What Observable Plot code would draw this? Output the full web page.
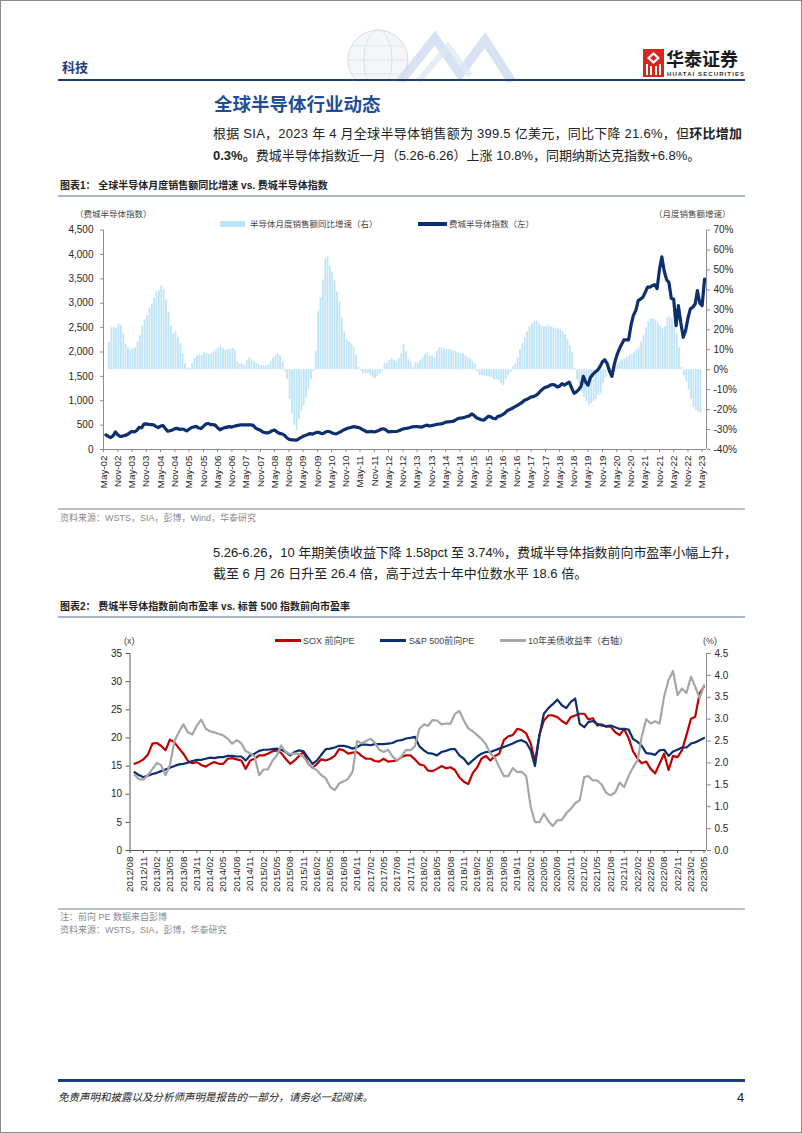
<!DOCTYPE html>
<html lang="zh">
<head>
<meta charset="utf-8">
<script src="https://cdn.jsdelivr.net/npm/d3@7"></script>
<script src="https://cdn.jsdelivr.net/npm/@observablehq/plot@0.6"></script>
<style>
html,body{margin:0;padding:0;background:#fff;}
#page{position:relative;width:802px;height:1133px;overflow:hidden;background:#fff;font-family:"Liberation Sans",Arial,"Noto Sans CJK SC",sans-serif;color:#222;}
.t{position:absolute;white-space:nowrap;line-height:1;}
.r{position:absolute;}
#frame{position:absolute;left:0;top:0;width:802px;height:1133px;box-sizing:border-box;border:1px solid #8a8a8a;pointer-events:none;}
b{font-weight:bold;}
</style>
</head>
<body>
<div id="page">
  <!-- header -->
  <svg class="r" style="left:300px;top:26px" width="230" height="56" viewBox="0 0 230 56">
    <circle cx="78" cy="34" r="30" fill="#f4f6f9" stroke="#d5dbe3" stroke-width="1"/>
    <ellipse cx="78" cy="34" rx="14" ry="30" fill="none" stroke="#dde2e8"/>
    <line x1="48" y1="34" x2="108" y2="34" stroke="#dde2e8"/>
    <line x1="52" y1="20" x2="104" y2="20" stroke="#e2e6eb"/>
    <line x1="52" y1="48" x2="104" y2="48" stroke="#e2e6eb"/>
    <polyline points="100,56 135,12 160,48 185,14 212,56" fill="none" stroke="#c6d7ec" stroke-width="9" opacity="0.7"/>
    <polyline points="118,56 148,20 170,50" fill="none" stroke="#dfe8f3" stroke-width="6" opacity="0.8"/>
  </svg>
  <div class="t" style="left:62px;top:59.5px;font-size:13px;font-weight:bold;color:#1f3c7c;font-family:'Noto Sans CJK SC'">科技</div>
  <svg class="r" style="left:643px;top:49px" width="21" height="28" viewBox="0 0 21 28">
    <rect x="0" y="0" width="21" height="28" fill="#d6261d"/>
    <path d="M10.5 3 L17 9 L10.5 15 L4 9 Z" fill="#fff"/>
    <path d="M10.5 6 L14 9 L10.5 12 L7 9 Z" fill="#d6261d"/>
    <rect x="3" y="15" width="2" height="11" fill="#fff"/>
    <rect x="7" y="17" width="2" height="9" fill="#fff"/>
    <rect x="12" y="17" width="2" height="9" fill="#fff"/>
    <rect x="16" y="15" width="2" height="11" fill="#fff"/>
  </svg>
  <div class="t" style="left:666px;top:49px;font-size:18px;font-weight:bold;color:#1a1a1a;font-family:'Noto Sans CJK SC'">华泰证券</div>
  <div class="t fit" data-w="77" style="left:667px;top:71px;font-size:6px;font-weight:bold;color:#333">HUATAI SECURITIES</div>
  <div class="r" style="left:58px;top:79px;width:687px;height:2px;background:#1f3c7c"></div>

  <div class="t" style="left:214px;top:93.75px;font-size:18.5px;font-weight:bold;color:#1f4e99;font-family:'Noto Sans CJK SC'">全球半导体行业动态</div>
  <div class="t fit" data-w="529" style="left:213px;top:126.5px;font-size:13px;color:#222">根据 SIA，2023 年 4 月全球半导体销售额为 399.5 亿美元，同比下降 21.6%，但<b>环比增加</b></div>
  <div class="t" style="left:213px;top:148.5px;font-size:13px;color:#222"><b>0.3%。</b>费城半导体指数近一月（5.26-6.26）上涨 10.8%，同期纳斯达克指数+6.8%。</div>

  <!-- chart 1 -->
  <div class="t" style="left:60px;top:181px;font-size:10px;font-weight:bold;color:#222">图表1：&nbsp;全球半导体月度销售额同比增速 vs. 费城半导体指数</div>
  <div class="r" style="left:58px;top:195px;width:687px;height:2px;background:#a9b7c8"></div>
  <div class="t" style="left:75px;top:209.75px;font-size:8.5px;color:#444">（费城半导体指数）</div>
  <div class="t" style="left:654px;top:209.75px;font-size:8.5px;color:#444">（月度销售额增速）</div>
  <div class="r" style="left:220px;top:221px;width:25px;height:6px;background:#bfe4f6"></div>
  <div class="t" style="left:250px;top:219.75px;font-size:8.5px;color:#444">半导体月度销售额同比增速（右）</div>
  <div class="r" style="left:418px;top:222.3px;width:29px;height:3.5px;background:#0d2f6e"></div>
  <div class="t" style="left:449px;top:219.75px;font-size:8.5px;color:#444">费城半导体指数（左）</div>
  <div id="c1" class="r" style="left:0;top:215px;width:802px;height:290px"></div>
  <div class="r" style="left:58px;top:508px;width:687px;height:1.5px;background:#b7c1cc"></div>
  <div class="t" style="left:60px;top:513.5px;font-size:9px;color:#8a8a8a">资料来源：WSTS，SIA，彭博，Wind，华泰研究</div>

  <div class="t fit" data-w="524" style="left:213px;top:545.5px;font-size:13px;color:#222">5.26-6.26，10 年期美债收益下降 1.58pct 至 3.74%，费城半导体指数前向市盈率小幅上升，</div>
  <div class="t" style="left:213px;top:566.5px;font-size:13px;color:#222">截至 6 月 26 日升至 26.4 倍，高于过去十年中位数水平 18.6 倍。</div>

  <!-- chart 2 -->
  <div class="t" style="left:60px;top:602px;font-size:10px;font-weight:bold;color:#222">图表2：&nbsp;费城半导体指数前向市盈率 vs. 标普 500 指数前向市盈率</div>
  <div class="r" style="left:58px;top:616px;width:687px;height:2px;background:#a9b7c8"></div>
  <div class="t" style="left:124px;top:636.5px;font-size:9px;color:#444">(x)</div>
  <div class="t" style="left:703px;top:636.5px;font-size:9px;color:#444">(%)</div>
  <div class="r" style="left:275px;top:639px;width:26px;height:2.5px;background:#c00000"></div>
  <div class="t" style="left:303px;top:636.5px;font-size:9px;color:#444">SOX 前向PE</div>
  <div class="r" style="left:380px;top:639px;width:26px;height:2.5px;background:#0b2f70"></div>
  <div class="t" style="left:409px;top:636.5px;font-size:9px;color:#444">S&amp;P 500前向PE</div>
  <div class="r" style="left:500px;top:639px;width:26px;height:2.5px;background:#a6a6a6"></div>
  <div class="t" style="left:528px;top:636.5px;font-size:9px;color:#444">10年美债收益率（右轴）</div>
  <div id="c2" class="r" style="left:0;top:640px;width:802px;height:270px"></div>
  <div class="r" style="left:58px;top:908px;width:687px;height:1.5px;background:#b7c1cc"></div>
  <div class="t" style="left:60px;top:912.5px;font-size:9px;color:#8a8a8a">注：前向 PE 数据来自彭博</div>
  <div class="t" style="left:60px;top:925.5px;font-size:9px;color:#8a8a8a">资料来源：WSTS，SIA，彭博，华泰研究</div>

  <!-- footer -->
  <div class="r" style="left:58px;top:1079px;width:687px;height:2.5px;background:#1f3c7c"></div>
  <div class="t" style="left:58px;top:1091.75px;font-size:10.5px;font-style:italic;color:#222">免责声明和披露以及分析师声明是报告的一部分，请务必一起阅读。</div>
  <div class="t" style="left:737px;top:1090.5px;font-size:13px;color:#222">4</div>
  <div id="frame"></div>
</div>
<script>
// ---------- DATA ----------
// Chart 1: monthly YoY growth of global semiconductor sales (%), Jul-2002 .. Apr-2023
const salesYoYStart = "2002-07";
const salesYoY = [
  14, 21, 21, 21, 23, 22,
  18, 13, 11, 10, 10.5, 11, 14, 17, 22, 25, 27, 31,
  33, 36, 39, 39.5, 42, 40, 35, 29, 22, 18, 19, 16,
  13, 8, 3, 0.5, 0.5, 3, 6, 7, 7.5, 7, 8.5, 8,
  7.5, 8, 9, 10, 11, 11.5, 10.5, 9.7, 10, 10, 11, 9.5,
  4, 2.7, 3, 2, 4.5, 6, 5, 4, 3, 2.5, 2, 2,
  1.7, 2.5, 4, 6, 7, 8, 7, 4, -1, -5, -15, -22,
  -28, -30.5, -25, -21, -18, -14, -10, -5, -1, 9, 29, 36,
  45, 55.5, 56.5, 52, 49, 44.5, 39, 34, 26, 19, 15, 14,
  13, 11, 7, 1.3, -0.7, -2, -2.2, -1.8, -3, -3.7, -4.5, -3.5,
  -2, -1, 3, 3.3, 4.7, 5.5, 4.8, 4.3, 5.5, 8, 12.7, 9,
  5, 4, 1, 3.5, 3, 4.5, 6, 7.5, 8.3, 7, 7, 6,
  9, 11, 11, 10.5, 10, 10, 9.5, 9.5, 9, 8.5, 8, 8,
  7, 6, 5.5, 4, 3, -1, -3, -3, -3.5, -3.5, -3.5, -4,
  -5, -5, -5.5, -7, -8, -5, -3, -1.5, 1.5, 3, 6, 10,
  13, 16, 19, 21.5, 23, 24, 24.5, 23, 22, 21.5, 21.5, 22,
  21.5, 21, 20.5, 20.5, 20, 19, 17.5, 15, 12, 8.5, 0.5, -5,
  -8, -11, -14, -16, -18, -17, -16, -15, -13, -12, -7, -4,
  -1, 0.5, 1, 2, 3, 4, 5, 5.5, 6, 7, 7.5, 8.5,
  10, 11, 14, 17, 21, 24, 25.5, 25.5, 25, 23.5, 22, 20.5,
  21.5, 26, 26.5, 25.5, 21.5, 18, 11, 1, -3, -6, -10, -15,
  -19, -20.5, -21, -21.6
];
// Chart 1: Philadelphia Semiconductor Index (SOX), monthly, Jun-2002 .. Jun-2023
const soxIndexStart = "2002-06";
const soxIndex = [
  300, 270, 245, 280, 360, 300, 268,
  275, 290, 305, 340, 370, 360, 390, 455, 445, 520, 526, 515,
  510, 505, 475, 450, 480, 492, 430, 375, 385, 400, 430, 435,
  410, 420, 410, 380, 415, 450, 462, 475, 440, 430, 475, 520,
  535, 510, 510, 500, 445, 405, 430, 448, 460, 470, 460, 475,
  490, 500, 505, 505, 505, 505, 505, 495, 440, 415, 395, 360,
  345, 340, 355, 385, 400, 360, 330, 321, 300, 245, 210, 198,
  198, 190, 210, 245, 270, 290, 310, 325, 315, 340, 355, 345,
  325, 345, 369, 369, 345, 328, 321, 345, 370, 400, 420, 440,
  450, 468, 465, 455, 440, 410, 385, 360, 365, 370, 360, 375,
  395, 420, 424, 395, 360, 368, 369, 369, 380, 400, 420, 430,
  437, 450, 465, 471, 471, 465, 460, 480, 500, 485, 490, 500,
  512, 522, 526, 535, 560, 565, 570, 575, 600, 630, 645, 650,
  660, 676, 690, 730, 700, 650, 630, 610, 600, 640, 683, 670,
  640, 630, 680, 690, 715, 750, 800, 820, 845, 875, 900, 930,
  960, 1004, 1025, 1050, 1080, 1086, 1110, 1150, 1200, 1250, 1277, 1290,
  1320, 1332, 1320, 1285, 1300, 1350, 1320, 1350, 1380, 1270, 1154, 1180,
  1230, 1300, 1500, 1380, 1320, 1480, 1540, 1590, 1630, 1700, 1800, 1840,
  1760, 1600, 1500, 1750, 1920, 2050, 2150, 2247, 2250, 2250, 2550, 2750,
  2850, 3055, 3085, 3120, 3220, 3330, 3330, 3360, 3381, 3300, 3700, 3950,
  3650, 3480, 3430, 3100, 3088, 2540, 2950, 2600, 2302, 2438, 2700, 2883,
  2917, 2985, 3258, 3000, 2950, 3497
];
const leftTicks1 = [0, 500, 1000, 1500, 2000, 2500, 3000, 3500, 4000, 4500];
const rightTicks1 = [-40, -30, -20, -10, 0, 10, 20, 30, 40, 50, 60, 70];
const xTickLabels1 = ["May-02","Nov-02","May-03","Nov-03","May-04","Nov-04","May-05","Nov-05","May-06","Nov-06",
  "May-07","Nov-07","May-08","Nov-08","May-09","Nov-09","May-10","Nov-10","May-11","Nov-11","May-12","Nov-12",
  "May-13","Nov-13","May-14","Nov-14","May-15","Nov-15","May-16","Nov-16","May-17","Nov-17","May-18","Nov-18",
  "May-19","Nov-19","May-20","Nov-20","May-21","Nov-21","May-22","Nov-22","May-23"];

// Chart 2: monthly, Sep-2012 .. May-2023
const peStart = "2012-09";
const soxPE = [
  15.4, 15.7, 16.2, 17.0,
  19.0, 19.1, 18.6, 17.8, 19.7, 19.2, 18.2, 17.2, 15.9, 15.5, 15.7, 15.2,
  14.9, 15.4, 15.7, 15.4, 15.4, 16.3, 16.4, 16.2, 16.0, 14.5, 16.0, 16.3,
  16.9, 16.9, 17.2, 17.6, 17.8, 17.3, 16.3, 15.4, 16.0, 16.8, 17.5, 15.5,
  14.7, 15.4, 16.2, 16.0, 16.3, 16.8, 18.0, 17.8, 17.2, 17.4, 17.5, 16.8,
  16.3, 16.3, 15.9, 15.8, 16.3, 15.8, 15.9, 16.0, 16.6, 16.9, 16.9, 16.2,
  15.3, 15.1, 14.2, 14.1, 14.5, 15.0, 14.6, 14.8, 14.3, 13.0, 12.2, 11.8,
  13.8, 14.8, 16.3, 16.8, 16.0, 16.8, 17.2, 19.6, 20.3, 20.5, 21.6, 21.4,
  20.8, 19.0, 15.8, 20.6, 23.1, 24.0, 24.0, 23.7, 23.0, 22.5, 23.7, 24.0,
  24.3, 24.3, 23.3, 23.5, 22.2, 22.4, 22.0, 22.0, 21.0, 20.5, 21.6, 20.0,
  17.6, 16.3, 15.5, 15.8, 14.5, 13.7, 15.4, 17.2, 14.3, 16.8, 16.6, 17.8,
  20.5, 23.4, 23.7, 27.9, 29.1
];
const spxPE = [
  13.9, 13.4, 13.0, 13.3,
  13.6, 13.8, 14.1, 14.4, 14.7, 15.0, 15.3, 15.4, 15.6, 15.9, 16.1, 16.1,
  16.3, 16.5, 16.4, 16.6, 16.6, 16.8, 16.8, 16.7, 16.7, 16.0, 16.9, 17.2,
  17.7, 17.9, 17.9, 18.0, 18.1, 17.9, 17.5, 16.9, 17.5, 17.8, 17.6, 16.5,
  15.4, 16.0, 17.0, 18.0, 18.1, 18.3, 18.6, 18.6, 18.4, 18.1, 18.4, 18.8,
  18.8, 18.7, 18.9, 18.9, 18.9, 19.0, 19.1, 19.5, 19.6, 19.9, 20.0, 20.2,
  18.5, 17.8, 17.3, 17.2, 16.9, 17.5, 17.7, 18.0, 18.0, 16.9, 16.3, 15.3,
  16.0, 16.7, 17.2, 17.5, 17.5, 17.8, 18.1, 18.4, 18.7, 19.0, 19.4, 19.6,
  19.2, 17.8, 15.0, 20.5, 24.3, 25.3, 26.0, 26.8, 25.8, 25.3, 26.4, 27.0,
  22.5, 21.9, 22.8, 23.0, 22.5, 22.2, 22.1, 22.2, 21.9, 21.6, 21.6, 21.5,
  19.8, 19.3, 18.6, 17.3, 17.2, 17.0, 17.8, 17.9, 16.8, 17.6, 17.9, 18.3,
  18.3, 19.0, 19.2, 19.6, 20.0
];
const ust10y = [
  1.73, 1.63, 1.62, 1.72,
  1.86, 2.0, 1.95, 1.72, 1.95, 2.5, 2.7, 2.88, 2.7, 2.65, 2.85, 2.99,
  2.78, 2.72, 2.7, 2.66, 2.63, 2.55, 2.44, 2.52, 2.45, 2.27, 2.22, 2.15,
  1.72, 1.85, 1.85, 2.04, 2.17, 2.4, 2.25, 2.2, 2.22, 2.2, 2.14, 2.0,
  1.9, 1.83, 1.72, 1.65, 1.45, 1.38, 1.53, 1.58, 1.64, 1.8, 2.5, 2.45,
  2.5, 2.55, 2.47, 2.3, 2.25, 2.3, 2.15, 2.06, 2.15, 2.3, 2.29, 2.38,
  2.78, 2.88, 2.85, 2.98, 2.97, 2.88, 2.9, 2.9, 3.12, 3.19, 2.97, 2.79,
  2.72, 2.63, 2.55, 2.42, 2.21, 2.12, 1.9, 1.7, 1.7, 1.88, 1.79, 1.8,
  1.7, 1.0, 0.65, 0.65, 0.84, 0.67, 0.56, 0.69, 0.7, 0.85, 0.95, 1.08,
  1.15, 1.68, 1.7, 1.6, 1.6, 1.5, 1.32, 1.26, 1.33, 1.55, 1.45, 1.7,
  1.9, 2.06, 2.6, 3.0, 2.9, 2.95, 2.9, 3.51, 3.9, 4.1, 3.55, 3.7,
  3.6, 3.97, 3.75, 3.48, 3.77
];
const leftTicks2 = [0, 5, 10, 15, 20, 25, 30, 35];
const rightTicks2 = [0, 0.5, 1, 1.5, 2, 2.5, 3, 3.5, 4, 4.5];
const xTickLabels2 = ["2012/08","2012/11","2013/02","2013/05","2013/08","2013/11","2014/02","2014/05","2014/08","2014/11",
  "2015/02","2015/05","2015/08","2015/11","2016/02","2016/05","2016/08","2016/11","2017/02","2017/05","2017/08","2017/11",
  "2018/02","2018/05","2018/08","2018/11","2019/02","2019/05","2019/08","2019/11","2020/02","2020/05","2020/08","2020/11",
  "2021/02","2021/05","2021/08","2021/11","2022/02","2022/05","2022/08","2022/11","2023/02","2023/05"];

// ---------- DRAW ----------
const ym = d3.utcParse("%Y-%m"), ymd = d3.utcParse("%Y-%m-%d");
const COL = {bar:"#bfe4f6", sox:"#0d2f6e", red:"#c00000", blue:"#0b2f70", gray:"#a6a6a6", axis1:"#8c8c8c", axis2:"#595959", axis2r:"#8c8c8c"};
const baseStyle = {background:"transparent", fontFamily:"'Liberation Sans', Arial, sans-serif", fontSize:"10px", color:"#262626", overflow:"visible"};

function mount(id, svg){ svg.style.position="absolute"; svg.style.left="0"; svg.style.top="0"; document.getElementById(id).appendChild(svg); }

// chart 1
const b0 = ym(salesYoYStart);
const bars = salesYoY.map((v,i)=>({x1:d3.utcMonth.offset(b0,i), x2:d3.utcMonth.offset(b0,i+1), v}));
const s0 = ym(soxIndexStart);
const sox = soxIndex.map((v,i)=>({date:d3.utcMonth.offset(s0,i), v}));
const xDom1 = [ymd("2002-05-01"), ymd("2023-06-26")];
const xTicks1 = xTickLabels1.map(d3.utcParse("%b-%y"));
const dims1 = {width:802, height:290, marginTop:14.6, marginBottom:56, marginLeft:103, marginRight:96, style:baseStyle};

mount("c1", Plot.plot({...dims1,
  x:{type:"utc", domain:xDom1, label:null},
  y:{domain:[-40,70], label:null},
  marks:[
    Plot.rect(bars, {x1:"x1", x2:"x2", y1:0, y2:"v", fill:COL.bar, insetLeft:0.3, insetRight:0.3}),
    Plot.ruleY([-40], {stroke:COL.axis1}),
    Plot.ruleX([xDom1[1]], {stroke:COL.axis1}),
    Plot.axisY(rightTicks1, {anchor:"right", tickFormat:d=>d+"%", tickSize:3, tickPadding:4, stroke:COL.axis1, label:null}),
    Plot.axisX(xTicks1, {anchor:"bottom", tickFormat:d3.utcFormat("%b-%y"), tickRotate:-90, tickSize:3, tickPadding:3, fontSize:9.8, stroke:COL.axis1, label:null})
  ]}));
mount("c1", Plot.plot({...dims1,
  x:{type:"utc", domain:xDom1, axis:null, label:null},
  y:{domain:[0,4500], label:null},
  marks:[
    Plot.ruleX([xDom1[0]], {stroke:COL.axis1}),
    Plot.axisY(leftTicks1, {anchor:"left", tickFormat:d3.format(","), tickSize:3, tickPadding:7, stroke:COL.axis1, label:null}),
    Plot.lineY(sox, {x:"date", y:"v", stroke:COL.sox, strokeWidth:3.2, strokeLinejoin:"round", strokeLinecap:"round"})
  ]}));

// chart 2
const p0 = ym(peStart);
const pe = soxPE.map((v,i)=>({date:d3.utcMonth.offset(p0,i), sox:v, spx:spxPE[i], y10:ust10y[i]}));
const xDom2 = [ymd("2012-08-01"), ymd("2023-05-18")];
const xTicks2 = xTickLabels2.map(d3.utcParse("%Y/%m"));
const dims2 = {width:802, height:270, marginTop:13, marginBottom:60, marginLeft:129.5, marginRight:96, style:baseStyle};

mount("c2", Plot.plot({...dims2,
  x:{type:"utc", domain:xDom2, label:null},
  y:{domain:[0,35], label:null},
  marks:[
    Plot.ruleX([xDom2[0]], {stroke:COL.axis2}),
    Plot.ruleY([0], {stroke:COL.axis2}),
    Plot.axisY(leftTicks2, {anchor:"left", tickSize:4, tickPadding:4, stroke:COL.axis2, label:null}),
    Plot.axisX(xTicks2, {anchor:"bottom", tickFormat:d3.utcFormat("%Y/%m"), tickRotate:-90, tickSize:3, tickPadding:3, fontSize:9.8, stroke:COL.axis2, label:null}),
    Plot.lineY(pe, {x:"date", y:"sox", stroke:COL.red, strokeWidth:2.2, strokeLinejoin:"round"}),
    Plot.lineY(pe, {x:"date", y:"spx", stroke:COL.blue, strokeWidth:2.2, strokeLinejoin:"round"})
  ]}));
mount("c2", Plot.plot({...dims2,
  x:{type:"utc", domain:xDom2, axis:null, label:null},
  y:{domain:[0,4.5], label:null},
  marks:[
    Plot.ruleX([xDom2[1]], {stroke:COL.axis2r}),
    Plot.axisY(rightTicks2, {anchor:"right", tickFormat:d3.format(".1f"), tickSize:4, tickPadding:4, stroke:COL.axis2r, label:null}),
    Plot.lineY(pe, {x:"date", y:"y10", stroke:COL.gray, strokeWidth:2.2, strokeLinejoin:"round"})
  ]}));

// fit justified lines to target widths
function fitAll(){
  document.querySelectorAll(".fit").forEach(el=>{
    el.style.letterSpacing="0px";
    const w = el.getBoundingClientRect().width;
    const n = el.textContent.length;
    const target = +el.dataset.w;
    el.style.letterSpacing = ((target - w)/Math.max(1,n-1)) + "px";
  });
}
if (document.fonts && document.fonts.ready) document.fonts.ready.then(fitAll); else fitAll();
fitAll();
</script>
</body>
</html>
